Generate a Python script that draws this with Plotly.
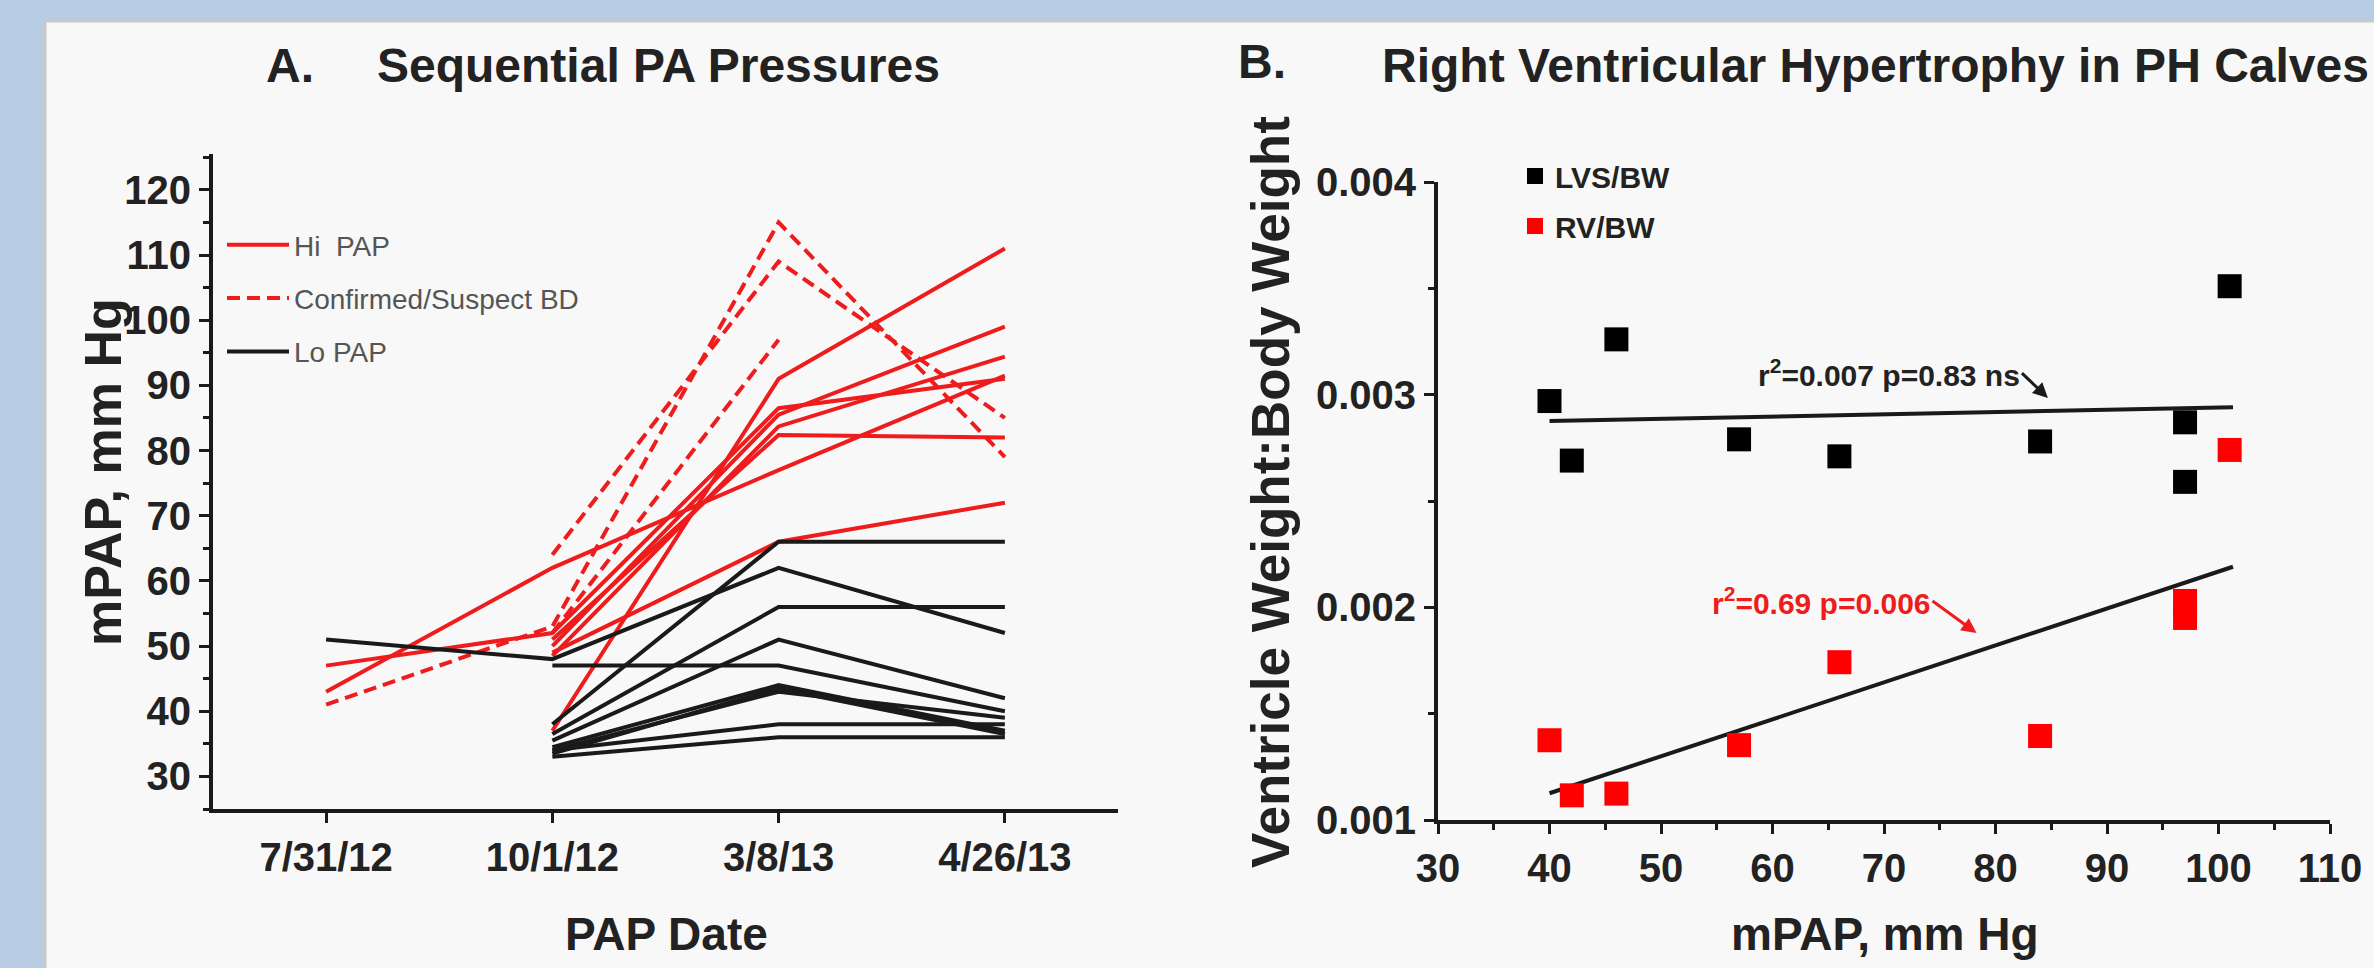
import numpy as np
import plotly.graph_objects as go

W, H = 2374, 968

# ---------------- Panel A data ----------------
pap_dates = ["7/31/12", "10/1/12", "3/8/13", "4/26/13"]

hi_pap_1 = [47, 52, 86.5, 91]
hi_pap_2 = [43, 62, 77, 91.5]
hi_pap_3 = [None, 37, 91, 111]
hi_pap_4 = [None, 49, 66, 72]
hi_pap_5 = [None, 50, 85.5, 99]
hi_pap_6 = [None, 48.5, 83.7, 94.4]
hi_pap_7 = [None, 51, 82.4, 82]

bd_1 = [41, 53, 115, 79]
bd_2 = [None, 64, 109, 85]
bd_3 = [None, 52, 97, None]

lo_pap_1 = [51, 48, 62, 52]
lo_pap_2 = [None, 47, 47, 40]
lo_pap_3 = [None, 38, 66, 66]
lo_pap_4 = [None, 36.5, 56, 56]
lo_pap_5 = [None, 35.5, 51, 42]
lo_pap_6 = [None, 34.5, 44, 37]
lo_pap_7 = [None, 34, 43, 39]
lo_pap_8 = [None, 33.5, 43.5, 36.5]
lo_pap_9 = [None, 34, 38, 38]
lo_pap_10 = [None, 33, 36, 36]

hi_series = [hi_pap_1, hi_pap_2, hi_pap_3, hi_pap_4, hi_pap_5, hi_pap_6, hi_pap_7]
bd_series = [bd_1, bd_2, bd_3]
lo_series = [lo_pap_1, lo_pap_2, lo_pap_3, lo_pap_4, lo_pap_5, lo_pap_6,
             lo_pap_7, lo_pap_8, lo_pap_9, lo_pap_10]

# ---------------- Panel B data ----------------
mpap = [40, 42, 46, 57, 66, 84, 97, 97, 101]
lvs_bw = [0.00297, 0.00269, 0.00326, 0.00279, 0.00271, 0.00278, 0.00287, 0.00259, 0.00351]
mpap_rv = [40, 42, 46, 57, 66, 84, 97, 97, 101]
rv_bw = [0.001375, 0.001116, 0.001124, 0.001352, 0.001742, 0.001395, 0.00203, 0.00195, 0.00274]

y_ticks_a = [30, 40, 50, 60, 70, 80, 90, 100, 110, 120]
x_ticks_b = [30, 40, 50, 60, 70, 80, 90, 100, 110]
y_ticks_b = [0.001, 0.002, 0.003, 0.004]

RED = "#ee1c1c"
BLK = "#1a1a1a"
FONT = "Liberation Sans, Arial, sans-serif"
LW = 4

fig = go.Figure()

# Panel A lines
for i, s in enumerate(hi_series):
    fig.add_trace(go.Scatter(x=pap_dates, y=s, mode="lines",
                             line=dict(color=RED, width=LW),
                             name="Hi  PAP", legendgroup="hi", showlegend=(i == 0),
                             legend="legend", xaxis="x", yaxis="y"))
for i, s in enumerate(bd_series):
    fig.add_trace(go.Scatter(x=pap_dates, y=s, mode="lines",
                             line=dict(color=RED, width=LW, dash="13px,7px"),
                             name="Confirmed/Suspect BD", legendgroup="bd", showlegend=(i == 0),
                             legend="legend", xaxis="x", yaxis="y"))
for i, s in enumerate(lo_series):
    fig.add_trace(go.Scatter(x=pap_dates, y=s, mode="lines",
                             line=dict(color=BLK, width=LW),
                             name="Lo PAP", legendgroup="lo", showlegend=(i == 0),
                             legend="legend", xaxis="x", yaxis="y"))

# Panel B regression lines computed from the data
for xs, ys in [(mpap, lvs_bw), (mpap_rv, rv_bw)]:
    k, b = np.polyfit(xs, ys, 1)
    xx = [min(xs), max(xs) + 0.3]
    fig.add_trace(go.Scatter(x=xx, y=[k * v + b for v in xx], mode="lines",
                             line=dict(color=BLK, width=LW), showlegend=False,
                             xaxis="x2", yaxis="y2", hoverinfo="skip"))

fig.add_trace(go.Scatter(x=mpap, y=lvs_bw, mode="markers", name="LVS/BW",
                         marker=dict(symbol="square", size=24, color="#000000"),
                         legend="legend2", legendgroup="lvs", xaxis="x2", yaxis="y2"))
fig.add_trace(go.Scatter(x=mpap_rv, y=rv_bw, mode="markers", name="RV/BW",
                         marker=dict(symbol="square", size=24, color="#ff0000"),
                         legend="legend2", legendgroup="rv", xaxis="x2", yaxis="y2"))

def px_x(p):
    return p / W

def px_y(p):
    return 1 - p / H

axis_common = dict(showline=True, linecolor=BLK, linewidth=4, ticks="outside",
                   ticklen=10, tickwidth=3, tickcolor=BLK, showgrid=False, zeroline=False,
                   automargin=False,
                   tickfont=dict(family=FONT, size=40, color="#222", weight="bold"))
minor_common = dict(ticks="outside", ticklen=6, tickwidth=3, tickcolor=BLK)

layout = dict(
    template="none",
    width=W, height=H, autosize=False,
    paper_bgcolor="#b8cce4", plot_bgcolor="rgba(0,0,0,0)",
    margin=dict(l=0, r=0, t=0, b=0, pad=0, autoexpand=False),
    xaxis=dict(domain=[px_x(213), px_x(1118)], anchor="y", type="category",
               range=[-0.5, 3.5], **axis_common),
    yaxis=dict(domain=[px_y(809), px_y(154)], anchor="x", range=[25, 125.5],
               tickvals=y_ticks_a, minor=dict(dtick=5, **minor_common), **axis_common),
    xaxis2=dict(domain=[px_x(1438), px_x(2330)], anchor="y2", range=[30, 110],
                tickvals=x_ticks_b, minor=dict(dtick=5, **minor_common), **axis_common),
    yaxis2=dict(domain=[px_y(820), px_y(182)], anchor="x2", range=[0.001, 0.004],
                tickvals=y_ticks_b, tickformat=".3f",
                minor=dict(dtick=0.0005, **minor_common), **axis_common),
    legend=dict(x=px_x(222), y=px_y(220), xanchor="left", yanchor="top",
                bgcolor="rgba(0,0,0,0)", borderwidth=0, tracegroupgap=14, itemwidth=62,
                font=dict(family=FONT, size=28, color="#555")),
    legend2=dict(x=px_x(1515), y=px_y(150), xanchor="left", yanchor="top",
                 bgcolor="rgba(0,0,0,0)", borderwidth=0, tracegroupgap=8,
                 font=dict(family=FONT, size=30, color="#222", weight="bold")),
    shapes=[dict(type="rect", xref="paper", yref="paper", x0=px_x(45), x1=1.01,
                 y0=-0.01, y1=px_y(21), fillcolor="#f8f8f8",
                 line=dict(color="#c9c9c9", width=3), layer="below")],
)
fig.update_layout(**layout)

def txt(x, y, s, size, color="#222", bold=True, xanchor="left", angle=0):
    fig.add_annotation(x=px_x(x), y=px_y(y), xref="paper", yref="paper", text=s,
                       showarrow=False, xanchor=xanchor, yanchor="middle", textangle=angle,
                       font=dict(family=FONT, size=size, color=color,
                                 weight="bold" if bold else "normal"))

txt(264, 66, "A.", 48)
txt(375, 66, "Sequential PA Pressures", 48)
txt(1236, 62, "B.", 48)
txt(1380, 66, "Right Ventricular Hypertrophy in PH Calves", 48)
txt(103, 472, "mPAP, mm Hg", 52, xanchor="center", angle=-90)
txt(666, 934, "PAP Date", 46, xanchor="center")
txt(1270, 492, "Ventricle Weight:Body Weight", 53, xanchor="center", angle=-90)
txt(1885, 934, "mPAP, mm Hg", 46, xanchor="center")

# regression annotations (text with arrow pointing at the fitted line)
fig.add_annotation(x=84.7, y=0.002984, xref="x2", yref="y2",
                   text="r<sup>2</sup>=0.007 p=0.83 ns", showarrow=True,
                   ax=-26, ay=-25, xanchor="right", yanchor="middle",
                   arrowhead=2, arrowsize=1, arrowwidth=3, arrowcolor=BLK,
                   font=dict(family=FONT, size=30, color="#222", weight="bold"))
fig.add_annotation(x=78.3, y=0.001879, xref="x2", yref="y2",
                   text="r<sup>2</sup>=0.69 p=0.006", showarrow=True,
                   ax=-44, ay=-32, xanchor="right", yanchor="middle",
                   arrowhead=2, arrowsize=1, arrowwidth=3, arrowcolor=RED,
                   font=dict(family=FONT, size=30, color=RED, weight="bold"))

fig.write_html("out.html", config={"displayModeBar": False},
               post_script="document.body.style.margin='0px';document.body.style.overflow='hidden';")
